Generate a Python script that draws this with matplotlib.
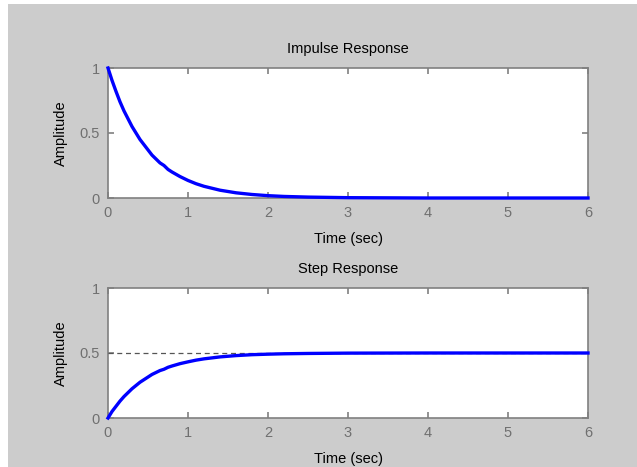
import matplotlib
matplotlib.use("Agg")
import matplotlib.pyplot as plt
from matplotlib.patches import Rectangle

# Data
t = [0, 0.05, 0.1, 0.15, 0.2, 0.25, 0.3, 0.35, 0.4, 0.45, 0.5, 0.55, 0.6, 0.65, 0.7,
     0.75, 0.8, 0.9, 1.0, 1.1, 1.2, 1.4, 1.6, 1.8, 2.0, 2.2, 2.5, 3.0, 4.0, 5.0, 6.0]
impulse = [1.0, 0.905, 0.82, 0.74, 0.67, 0.61, 0.55, 0.50, 0.45, 0.41, 0.37, 0.33,
           0.30, 0.27, 0.25, 0.22, 0.20, 0.165, 0.135, 0.11, 0.09, 0.06, 0.04, 0.027,
           0.018, 0.012, 0.007, 0.0025, 0.0, 0.0, 0.0]
step = [0.0, 0.05, 0.09, 0.13, 0.165, 0.195, 0.225, 0.25, 0.275, 0.295, 0.315, 0.335,
        0.35, 0.365, 0.375, 0.39, 0.40, 0.418, 0.432, 0.445, 0.455, 0.47, 0.48, 0.487,
        0.491, 0.494, 0.4965, 0.499, 0.5, 0.5, 0.5]
steady_state = 0.5
xticks = [0, 1, 2, 3, 4, 5, 6]
yticks = [0, 0.5, 1]
yticklabels = ["0", "0.5", "1"]

plt.rcParams['font.family'] = ['Liberation Sans', 'DejaVu Sans']
FS = 10.5
W, H = 637, 467
fig = plt.figure(figsize=(W / 100, H / 100), dpi=100, facecolor='white')
fig.patches.append(Rectangle((8 / W, 0), 1 - 8 / W, 1 - 4 / H, transform=fig.transFigure,
                             facecolor='#cccccc', edgecolor='none', zorder=-10))

def px_axes(x0, y0, x1, y1):
    return fig.add_axes([x0 / W, 1 - y1 / H, (x1 - x0) / W, (y1 - y0) / H])

def style(ax, title):
    ax.set_facecolor('white')
    ax.set_xlim(0, 6)
    ax.set_ylim(0, 1)
    ax.set_xticks(xticks)
    ax.set_yticks(yticks)
    ax.set_yticklabels(yticklabels)
    for s in ax.spines.values():
        s.set_color('#808080')
        s.set_linewidth(1.2)
    ax.tick_params(direction='in', top=True, right=True, length=4, width=1.2,
                   color='#808080', labelcolor='#707070', labelsize=FS, pad=6)
    ax.set_title(title, fontsize=FS, color='black', pad=11)
    ax.set_xlabel('Time (sec)', fontsize=FS, labelpad=8.5)
    ax.set_ylabel('Amplitude', fontsize=FS, labelpad=8)

ax1 = px_axes(108, 68, 588, 198)
ax1.plot(t, impulse, color='#0000ff', lw=2.4, clip_on=False, zorder=5)
style(ax1, 'Impulse Response')

ax2 = px_axes(108, 288, 588, 418)
ax2.axhline(steady_state, color='#555555', lw=0.9, ls=(0, (4, 3)), zorder=3)
ax2.plot(t, step, color='#0000ff', lw=2.4, clip_on=False, zorder=5)
style(ax2, 'Step Response')

fig.savefig('out.png', dpi=100, facecolor=fig.get_facecolor())
